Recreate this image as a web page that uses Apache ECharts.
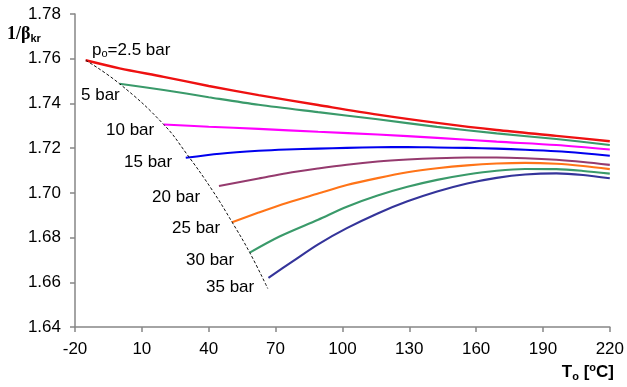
<!DOCTYPE html>
<html><head><meta charset="utf-8">
<script src="https://cdn.jsdelivr.net/npm/echarts@6/dist/echarts.min.js"></script>
<style>html,body{margin:0;padding:0;background:#fff}#c{width:627px;height:387px}</style>
</head><body><div id="c"></div>
<script>
// ---- data ----
const xTicks = [-20, 10, 40, 70, 100, 130, 160, 190, 220];
const seriesLabels = ['2.5 bar', '5 bar', '10 bar', '15 bar', '20 bar', '25 bar', '30 bar', '35 bar'];

const T_2_5 = [-15.2, 0, 19.8, 40, 62.4, 89.1, 115.8, 142.5, 169.2, 196, 220];
const B_2_5 = [1.7593, 1.7557, 1.7519, 1.7478, 1.7437, 1.7393, 1.7350, 1.7313, 1.7281, 1.7255, 1.7231];

const T_5 = [0, 19.8, 40, 62.4, 89.1, 115.8, 142.5, 169.2, 196, 220];
const B_5 = [1.7488, 1.7460, 1.7428, 1.7394, 1.7361, 1.7329, 1.7295, 1.7266, 1.7241, 1.7214];

const T_10 = [19.8, 40, 62.4, 89.1, 115.8, 142.5, 169.2, 196, 220];
const B_10 = [1.7306, 1.7296, 1.7286, 1.7273, 1.7261, 1.7246, 1.7229, 1.7214, 1.7194];

const T_15 = [29.7, 45, 62.4, 75, 89.1, 102, 115.8, 129.2, 142.5, 156, 169.2, 182, 196, 208, 220];
const B_15 = [1.7157, 1.7175, 1.7188, 1.7194, 1.7198, 1.7201, 1.7204, 1.7205, 1.7203, 1.7201, 1.7198, 1.7193, 1.7186, 1.7177, 1.7166];

const T_20 = [44.6, 62.4, 75, 89.1, 102, 115.8, 129.2, 142.5, 156, 169.2, 182, 196, 208, 220];
const B_20 = [1.7031, 1.7064, 1.7088, 1.7109, 1.7126, 1.7140, 1.7149, 1.7155, 1.7158, 1.7158, 1.7155, 1.7148, 1.7138, 1.7125];

const T_25 = [50.5, 62.4, 75, 89.1, 102, 115.8, 129.2, 142.5, 156, 169.2, 182, 196, 208, 220];
const B_25 = [1.6869, 1.6912, 1.6955, 1.6997, 1.7035, 1.7066, 1.7092, 1.7110, 1.7123, 1.7131, 1.7134, 1.7130, 1.7120, 1.7106];

const T_30 = [58.4, 72, 89.1, 102, 115.8, 129.2, 142.5, 156, 169.2, 182, 196, 208, 220];
const B_30 = [1.6733, 1.6806, 1.6880, 1.6938, 1.6988, 1.7027, 1.7058, 1.7082, 1.7099, 1.7107, 1.7106, 1.7098, 1.7086];

const T_35 = [66.8, 78, 89.1, 102, 115.8, 129.2, 142.5, 156, 169.2, 182, 196, 208, 220];
const B_35 = [1.6620, 1.6696, 1.6770, 1.6842, 1.6908, 1.6962, 1.7006, 1.7042, 1.7067, 1.7082, 1.7087, 1.7080, 1.7065];

const T_limit = [-15.2, 0, 19.8, 30, 41.6, 50.5, 58.4, 66.5];
const B_limit = [1.7593, 1.7488, 1.7306, 1.7176, 1.7012, 1.6869, 1.6733, 1.6572];

// ---- build ----
const curves = [
  [T_2_5, B_2_5], [T_5, B_5], [T_10, B_10], [T_15, B_15],
  [T_20, B_20], [T_25, B_25], [T_30, B_30], [T_35, B_35]
];
const colors = ['#EE1111', '#3A9A6A', '#FF00FF', '#0000EE', '#953A6E', '#FF7418', '#3A9A6A', '#34349A'];
const zip = (a, b) => a.map((v, i) => [v, b[i]]);

const series = curves.map((c, i) => ({
  name: seriesLabels[i], type: 'line', data: zip(c[0], c[1]),
  smooth: 0.3, showSymbol: false, symbol: 'none',
  lineStyle: { color: colors[i], width: i === 0 ? 2.4 : 2.1 }, z: 3
}));
series.push({
  name: 'limit', type: 'line', data: zip(T_limit, B_limit),
  smooth: 0.45, symbol: 'none',
  lineStyle: { color: '#111', width: 1, type: [3, 2] }, z: 4
});

const labelFont = '17px "Liberation Sans", Arial, sans-serif';
const labelPos = [[92, 50], [81, 95], [106, 130], [124, 162], [152, 197], [172, 228], [186, 260], [206, 287]];
const graphics = seriesLabels.map((t, i) => {
  if (i === 0) {
    return {
      type: 'text', x: labelPos[i][0], y: labelPos[i][1],
      style: {
        text: '{a|p}{s|o}{a|=' + t + '}', verticalAlign: 'middle', align: 'left',
        rich: {
          a: { fontSize: 17, fontFamily: 'Liberation Sans', fill: '#000' },
          s: { fontSize: 11, fontFamily: 'Liberation Sans', fill: '#000', padding: [8, 0, 0, 0] }
        }
      }
    };
  }
  return {
    type: 'text', x: labelPos[i][0], y: labelPos[i][1],
    style: { text: t, font: labelFont, fill: '#000', verticalAlign: 'middle', align: 'left' }
  };
});
graphics.push({
  type: 'text', x: 7, y: 34,
  style: {
    text: '{a|1/β}{s|kr}', verticalAlign: 'middle', align: 'left',
    rich: {
      a: { fontSize: 18, fontWeight: 'bold', fontFamily: 'Liberation Serif', fill: '#000' },
      s: { fontSize: 11, fontWeight: 'bold', fontFamily: 'Liberation Sans', fill: '#000', padding: [9, 0, 0, 0] }
    }
  }
});
graphics.push({
  type: 'text', x: 614, y: 372,
  style: {
    text: '{a|T}{s|o}{a| [}{p|o}{a|C]}', verticalAlign: 'middle', align: 'right',
    rich: {
      a: { fontSize: 17, fontWeight: 'bold', fontFamily: 'Liberation Sans', fill: '#000' },
      s: { fontSize: 11, fontWeight: 'bold', fontFamily: 'Liberation Sans', fill: '#000', padding: [9, 0, 0, 0] },
      p: { fontSize: 11, fontWeight: 'bold', fontFamily: 'Liberation Sans', fill: '#000', padding: [0, 0, 8, 0] }
    }
  }
});

const axisLineStyle = { color: '#868686', width: 1.5 };
const chart = echarts.init(document.getElementById('c'), null, { renderer: 'canvas' });
chart.setOption({
  animation: false,
  backgroundColor: '#fff',
  grid: { left: 75, right: 13, top: 14, bottom: 60, containLabel: false },
  xAxis: {
    type: 'value', min: -20, max: 220,
    axisLine: { show: true, onZero: false, lineStyle: axisLineStyle },
    axisTick: { show: true, length: 5, lineStyle: axisLineStyle, customValues: xTicks },
    axisLabel: { customValues: xTicks, margin: 14, color: '#000', fontSize: 17, fontFamily: 'Liberation Sans' },
    splitLine: { show: false }
  },
  yAxis: {
    type: 'value', min: 1.64, max: 1.78, interval: 0.02,
    axisLine: { show: true, onZero: false, lineStyle: axisLineStyle },
    axisTick: { show: true, length: 5, lineStyle: axisLineStyle },
    axisLabel: { margin: 14, color: '#000', fontSize: 17, fontFamily: 'Liberation Sans',
      formatter: v => v.toFixed(2) },
    splitLine: { show: false }
  },
  series: series,
  graphic: graphics
});
</script>
</body></html>
